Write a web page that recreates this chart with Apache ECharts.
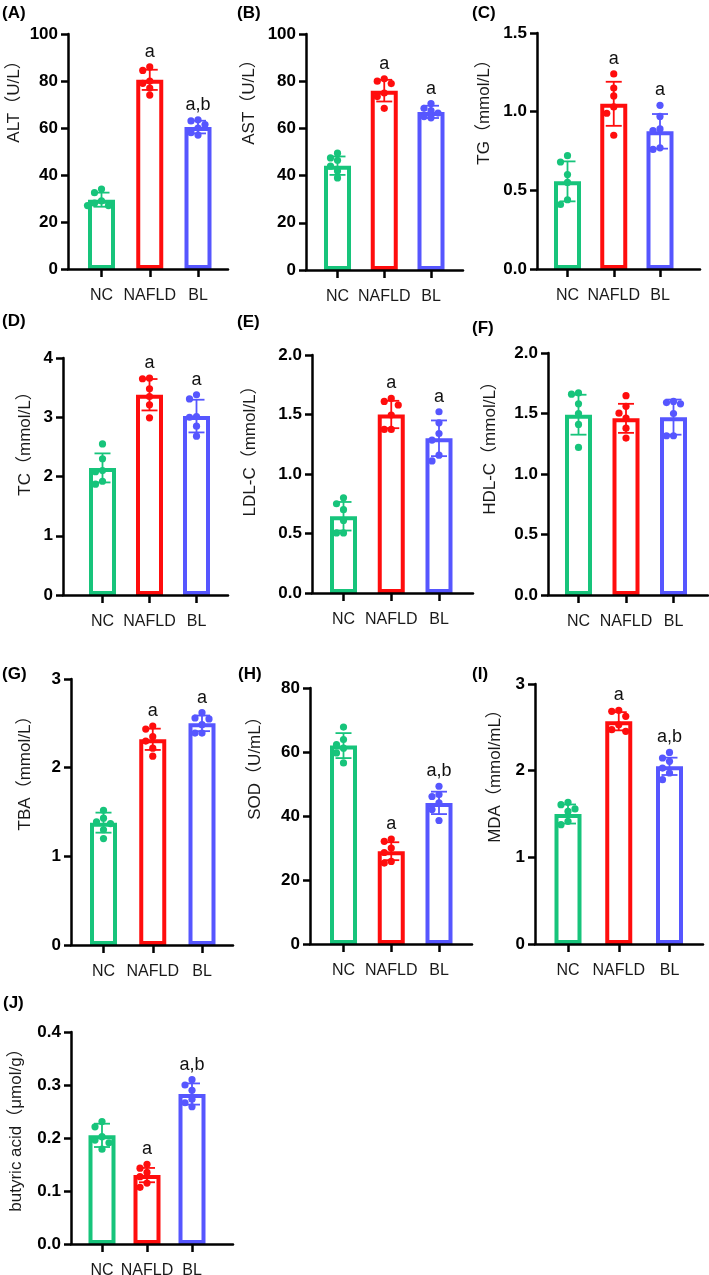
<!DOCTYPE html>
<html>
<head>
<meta charset="utf-8">
<script src="https://cdn.jsdelivr.net/npm/echarts@6.0.0/dist/echarts.min.js"></script>
<style>
html,body{margin:0;padding:0;background:#fff;}
#chart{width:709px;height:1275px;}
</style>
</head>
<body>
<div id="chart"></div>
<script>
// ---------------- DATA ----------------
const categories = ['NC', 'NAFLD', 'BL'];
const panelLetters = ['(A)', '(B)', '(C)', '(D)', '(E)', '(F)', '(G)', '(H)', '(I)', '(J)'];
const yTitles = ['ALT（U/L）', 'AST（U/L）', 'TG（mmol/L）', 'TC（mmol/L）', 'LDL-C（mmol/L）',
                 'HDL-C（mmol/L）', 'TBA（mmol/L）', 'SOD（U/mL）', 'MDA（mmol/mL）', 'butyric acid（μmol/g）'];
const yMax = [100, 100, 1.5, 4, 2.0, 2.0, 3, 80, 3, 0.4];
const yStep = [20, 20, 0.5, 1, 0.5, 0.5, 1, 20, 1, 0.1];
const yDecimals = [0, 0, 1, 0, 1, 1, 0, 0, 0, 1];

const ALT_mean = [29.5, 80.5, 60.4];
const ALT_sd = [3.0, 4.3, 2.7];
const ALT_points = [[34, 32.5, 29, 28, 27, 27], [86, 84.5, 80, 79, 77, 74], [63.5, 63, 61.5, 60, 58, 57]];
const ALT_marks = ['', 'a', 'a,b'];

const AST_mean = [44.2, 76, 67];
const AST_sd = [3.9, 4.6, 2.6];
const AST_points = [[49.5, 47.5, 46.5, 44, 42, 39], [81, 80, 79, 75, 73.5, 68.5], [70.5, 68.5, 67.5, 66.5, 65, 64.5]];
const AST_marks = ['', 'a', 'a'];

const TG_mean = [0.557, 1.05, 0.875];
const TG_sd = [0.127, 0.14, 0.11];
const TG_points = [[0.72, 0.68, 0.6, 0.55, 0.44, 0.41], [1.24, 1.15, 1.10, 1.03, 0.99, 0.85], [1.04, 0.97, 0.89, 0.88, 0.77, 0.76]];
const TG_marks = ['', 'a', 'a'];

const TC_mean = [2.145, 3.38, 3.02];
const TC_sd = [0.245, 0.265, 0.276];
const TC_points = [[2.55, 2.3, 2.1, 2.08, 1.92, 1.87], [3.66, 3.65, 3.48, 3.35, 3.21, 2.99], [3.38, 3.31, 3.01, 3.0, 2.85, 2.68]];
const TC_marks = ['', 'a', 'a'];

const LDL_mean = [0.645, 1.50, 1.30];
const LDL_sd = [0.12, 0.115, 0.15];
const LDL_points = [[0.80, 0.75, 0.70, 0.61, 0.505, 0.505], [1.635, 1.61, 1.58, 1.495, 1.375, 1.375], [1.523, 1.43, 1.34, 1.285, 1.158, 1.11]];
const LDL_marks = ['', 'a', 'a'];

const HDL_mean = [1.49, 1.46, 1.47];
const HDL_sd = [0.165, 0.12, 0.145];
const HDL_points = [[1.67, 1.66, 1.58, 1.5, 1.41, 1.22], [1.647, 1.559, 1.503, 1.462, 1.379, 1.297], [1.60, 1.59, 1.58, 1.50, 1.316, 1.316]];
const HDL_marks = ['', '', ''];

const TBA_mean = [1.38, 2.32, 2.50];
const TBA_sd = [0.113, 0.12, 0.088];
const TBA_points = [[1.52, 1.43, 1.39, 1.37, 1.30, 1.20], [2.47, 2.435, 2.35, 2.30, 2.22, 2.13], [2.62, 2.56, 2.55, 2.485, 2.39, 2.39]];
const TBA_marks = ['', 'a', 'a'];

const SOD_mean = [62, 29, 44.1];
const SOD_sd = [3.9, 2.8, 3.5];
const SOD_points = [[67.8, 63.9, 62.3, 61.2, 59.7, 56.6], [32.8, 32.1, 30, 28.6, 25.8, 25.3], [49.3, 46.7, 46.1, 44.1, 42, 38.6]];
const SOD_marks = ['', 'a', 'a,b'];

const MDA_mean = [1.50, 2.57, 2.05];
const MDA_sd = [0.11, 0.105, 0.10];
const MDA_points = [[1.635, 1.608, 1.558, 1.53, 1.415, 1.377], [2.696, 2.685, 2.627, 2.53, 2.473, 2.454], [2.21, 2.146, 2.108, 2.03, 1.973, 1.896]];
const MDA_marks = ['', 'a', 'a,b'];

const BUT_mean = [0.205, 0.130, 0.283];
const BUT_sd = [0.022, 0.0135, 0.02];
const BUT_points = [[0.231, 0.221, 0.2025, 0.196, 0.191, 0.179], [0.1505, 0.143, 0.135, 0.127, 0.115, 0.107], [0.310, 0.300, 0.290, 0.273, 0.2665, 0.259]];
const BUT_marks = ['', 'a', 'a,b'];

const panels = [
  { mean: ALT_mean, sd: ALT_sd, points: ALT_points, marks: ALT_marks },
  { mean: AST_mean, sd: AST_sd, points: AST_points, marks: AST_marks },
  { mean: TG_mean, sd: TG_sd, points: TG_points, marks: TG_marks },
  { mean: TC_mean, sd: TC_sd, points: TC_points, marks: TC_marks },
  { mean: LDL_mean, sd: LDL_sd, points: LDL_points, marks: LDL_marks },
  { mean: HDL_mean, sd: HDL_sd, points: HDL_points, marks: HDL_marks },
  { mean: TBA_mean, sd: TBA_sd, points: TBA_points, marks: TBA_marks },
  { mean: SOD_mean, sd: SOD_sd, points: SOD_points, marks: SOD_marks },
  { mean: MDA_mean, sd: MDA_sd, points: MDA_points, marks: MDA_marks },
  { mean: BUT_mean, sd: BUT_sd, points: BUT_points, marks: BUT_marks }
];

// ---------------- LAYOUT / STYLE ----------------
// [axisX, topY, endX, zeroY, firstCenterX, lastCenterX]
const layout = [
  [68, 34, 228, 269, 101.5, 198],
  [306, 34, 463, 270, 337.5, 431],
  [537, 33, 700, 269, 567.5, 660],
  [63, 358, 228, 595, 102.5, 196.5],
  [312, 355, 473, 593, 343.5, 439],
  [548, 353, 708, 595, 578.5, 673.5],
  [71, 679, 233, 945, 103.5, 202],
  [310, 688, 472, 944, 343.5, 439],
  [535, 684, 703, 944, 568, 669.5],
  [71, 1032, 233, 1244, 102, 192]
];
// [distance axis->title centre, upward shift of title]
const titleLayout = [[54, 54], [57, 54], [53, 43], [38, 37], [62, 27], [58, 30], [46, 43], [55, 52], [40, 42], [55, 12]];
// letter positions [left, centreY]
const letterPos = [[2, 13], [237, 13], [472, 13], [2, 321], [237, 322], [472, 328], [2, 674], [238, 674], [472, 674], [3, 1003]];

const colors = ['#17c47b', '#ff0d0d', '#5656ff'];
const FONT = "'Liberation Sans', Arial, 'Noto Sans CJK SC', sans-serif";

function swarm(ys, step, minDist) {
  const order = ys.map((y, i) => i).sort((a, b) => ys[a] - ys[b]);
  const placed = [];
  const dx = new Array(ys.length).fill(0);
  for (const i of order) {
    for (let k = 0; k < 30; k++) {
      const off = k === 0 ? 0 : (k % 2 === 1 ? -Math.ceil(k / 2) : Math.ceil(k / 2)) * step;
      if (placed.every(p => (p.x - off) * (p.x - off) + (p.y - ys[i]) * (p.y - ys[i]) >= minDist * minDist)) {
        dx[i] = off; placed.push({ x: off, y: ys[i] }); break;
      }
    }
  }
  return dx;
}

const option = {
  animation: false,
  backgroundColor: '#fff',
  textStyle: { fontFamily: FONT },
  title: [], grid: [], xAxis: [], yAxis: [], series: []
};

panels.forEach((p, i) => {
  const [ax, top, end, zero, c0, c2] = layout[i];
  const spacing = (c2 - c0) / 2;
  const xmin = -(c0 - ax) / spacing;
  const xmax = 2 + (end - c2) / spacing;
  const [tdx, tshift] = titleLayout[i];
  const dec = yDecimals[i];

  option.title.push({
    text: panelLetters[i], left: letterPos[i][0], top: letterPos[i][1] - 10, padding: 0,
    textStyle: { fontSize: 17, fontWeight: 'bold', color: '#000', lineHeight: 20, fontFamily: FONT }
  });
  option.grid.push({ left: ax, top: top, width: end - ax, height: zero - top, containLabel: false, outerBoundsMode: 'none' });
  option.xAxis.push({
    type: 'value', gridIndex: i, min: xmin, max: xmax, z: 10,
    axisLine: { show: true, onZero: false, lineStyle: { color: '#000', width: 2.5 } },
    axisTick: { show: true, length: 8, customValues: [0, 1, 2], lineStyle: { color: '#000', width: 2.5 } },
    axisLabel: { show: true, customValues: [0, 1, 2], margin: 19, fontSize: 16, color: '#1a1a1a', fontFamily: FONT,
      formatter: v => categories[Math.round(v)] || '' },
    splitLine: { show: false }
  });
  option.yAxis.push({
    type: 'value', gridIndex: i, min: 0, max: yMax[i], interval: yStep[i], z: 10,
    axisLine: { show: true, onZero: false, lineStyle: { color: '#000', width: 2.5 } },
    axisTick: { show: true, length: 7, lineStyle: { color: '#000', width: 2.5 } },
    axisLabel: { margin: 10, fontSize: 17, fontWeight: 'bold', color: '#000', fontFamily: FONT,
      formatter: v => v.toFixed(dec) },
    splitLine: { show: false },
    name: yTitles[i], nameLocation: 'middle', nameRotate: 90, nameGap: tdx - 9,
    nameTextStyle: { fontSize: 17, color: '#1a1a1a', fontFamily: FONT, padding: [0, 0, 0, 2 * tshift] }
  });

  // bars
  option.series.push({
    type: 'bar', xAxisIndex: i, yAxisIndex: i, barWidth: 27, z: 2,
    data: p.mean.map((m, g) => ({ value: [g, m], itemStyle: { color: '#fff', borderColor: colors[g], borderWidth: 4 } }))
  });
  // error bars
  option.series.push({
    type: 'custom', xAxisIndex: i, yAxisIndex: i, z: 3,
    data: p.mean.map((m, g) => [g, m, p.sd[g]]),
    renderItem: (params, api) => {
      const g = api.value(0), m = api.value(1), s = api.value(2);
      const hi = api.coord([g, m + s]), lo = api.coord([g, m - s]);
      const c = colors[g], hw = 8;
      const st = { stroke: c, lineWidth: 1.8, fill: null };
      return { type: 'group', children: [
        { type: 'line', shape: { x1: hi[0], y1: hi[1], x2: lo[0], y2: lo[1] }, style: st },
        { type: 'line', shape: { x1: hi[0] - hw, y1: hi[1], x2: hi[0] + hw, y2: hi[1] }, style: st },
        { type: 'line', shape: { x1: lo[0] - hw, y1: lo[1], x2: lo[0] + hw, y2: lo[1] }, style: st }
      ] };
    }
  });
  // individual points
  const ptData = [];
  p.points.forEach((arr, g) => arr.forEach((v, j) => ptData.push([g, v, j])));
  option.series.push({
    type: 'custom', xAxisIndex: i, yAxisIndex: i, z: 4,
    data: ptData,
    renderItem: (params, api) => {
      const g = api.value(0), v = api.value(1), j = api.value(2);
      const ys = p.points[g].map(val => api.coord([g, val])[1]);
      const dx = swarm(ys, 7, 6.8);
      const pt = api.coord([g, v]);
      return { type: 'circle', shape: { cx: pt[0] + dx[j], cy: pt[1], r: 3.6 }, style: { fill: colors[g] } };
    }
  });
  // significance marks
  option.series.push({
    type: 'custom', xAxisIndex: i, yAxisIndex: i, z: 5,
    data: p.mean.map((m, g) => [g, Math.max(m + p.sd[g], Math.max.apply(null, p.points[g])), g]),
    renderItem: (params, api) => {
      const g = api.value(0), t = api.value(1);
      const txt = p.marks[g];
      if (!txt) return null;
      const pt = api.coord([g, t]);
      return { type: 'text', style: { text: txt, x: pt[0], y: pt[1] - 15, align: 'center', verticalAlign: 'middle',
        fontSize: 18, fontFamily: FONT, fill: '#111' } };
    }
  });
});

const chart = echarts.init(document.getElementById('chart'), null, { renderer: 'canvas' });
chart.setOption(option);
</script>
</body>
</html>
